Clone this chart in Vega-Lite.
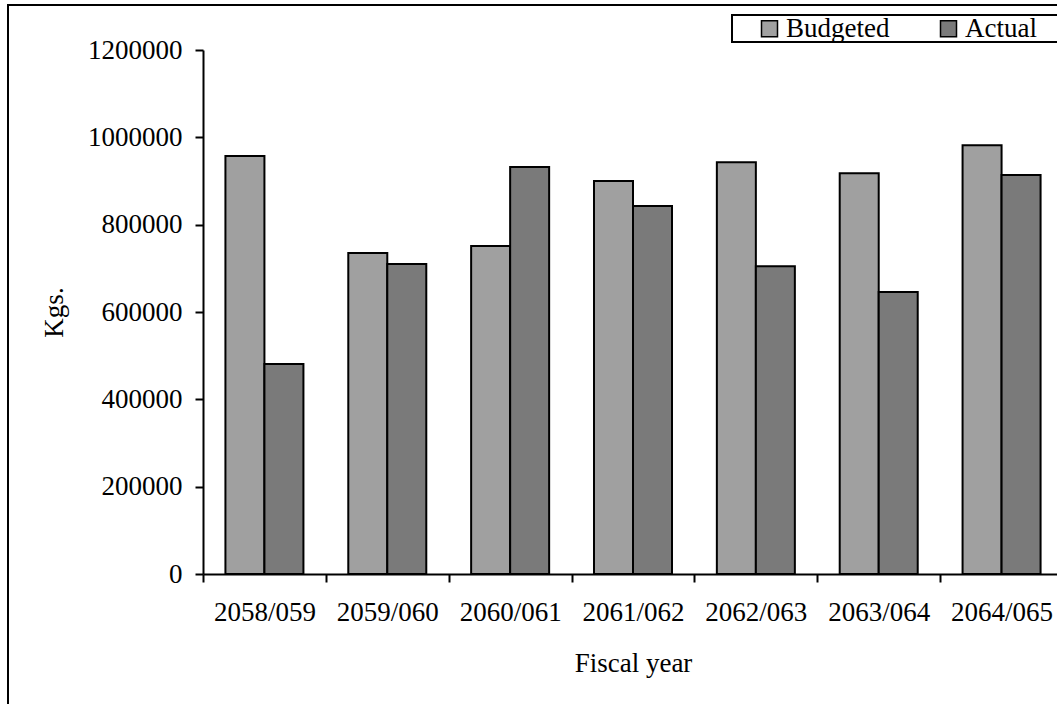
{
  "$schema": "https://vega.github.io/schema/vega-lite/v6.json",
  "width": 1060,
  "height": 720,
  "autosize": {"type": "none"},
  "padding": {"left": 8, "top": 5, "right": 0, "bottom": 0},
  "data": {
    "values": [
      {"year": "2058/059", "type": "Budgeted", "kgs": 957000},
      {"year": "2058/059", "type": "Actual", "kgs": 481000},
      {"year": "2059/060", "type": "Budgeted", "kgs": 735000},
      {"year": "2059/060", "type": "Actual", "kgs": 710000},
      {"year": "2060/061", "type": "Budgeted", "kgs": 751000},
      {"year": "2060/061", "type": "Actual", "kgs": 932000},
      {"year": "2061/062", "type": "Budgeted", "kgs": 900000},
      {"year": "2061/062", "type": "Actual", "kgs": 843000},
      {"year": "2062/063", "type": "Budgeted", "kgs": 943000},
      {"year": "2062/063", "type": "Actual", "kgs": 705000},
      {"year": "2063/064", "type": "Budgeted", "kgs": 918000},
      {"year": "2063/064", "type": "Actual", "kgs": 646000},
      {"year": "2064/065", "type": "Budgeted", "kgs": 982000},
      {"year": "2064/065", "type": "Actual", "kgs": 914000}
    ]
  },
  "mark": {"type": "bar", "stroke": "black", "strokeWidth": 2},
  "encoding": {
    "x": {
      "field": "year",
      "type": "nominal",
      "sort": null,
      "scale": {"range": [195, 1055], "paddingInner": 0, "paddingOuter": 0},
      "axis": {
        "title": "Fiscal year",
        "offset": -151,
        "tickBand": "extent",
        "labelAngle": 0,
        "labelFont": "Liberation Serif",
        "labelFontSize": 27,
        "labelColor": "black",
        "labelPadding": 17,
        "tickSize": 8,
        "tickWidth": 2,
        "tickColor": "black",
        "domainColor": "black",
        "domainWidth": 2,
        "titleFont": "Liberation Serif",
        "titleFontSize": 27,
        "titleFontWeight": "normal",
        "titleColor": "black",
        "titlePadding": 25
      }
    },
    "xOffset": {
      "field": "type",
      "sort": ["Budgeted", "Actual"],
      "scale": {"paddingInner": 0, "paddingOuter": 0.575}
    },
    "y": {
      "field": "kgs",
      "type": "quantitative",
      "scale": {"domain": [0, 1200000], "range": [569, 45], "nice": false},
      "axis": {
        "title": "Kgs.",
        "offset": -195,
        "values": [0, 200000, 400000, 600000, 800000, 1000000, 1200000],
        "format": "d",
        "grid": false,
        "labelFont": "Liberation Serif",
        "labelFontSize": 27,
        "labelColor": "black",
        "labelPadding": 13,
        "tickSize": 8,
        "tickWidth": 2,
        "tickColor": "black",
        "domainColor": "black",
        "domainWidth": 2,
        "titleFont": "Liberation Serif",
        "titleFontSize": 27,
        "titleFontWeight": "normal",
        "titleColor": "black",
        "titlePadding": 19
      }
    },
    "color": {
      "field": "type",
      "type": "nominal",
      "sort": ["Budgeted", "Actual"],
      "scale": {"domain": ["Budgeted", "Actual"], "range": ["#a0a0a0", "#7a7a7a"]},
      "legend": {
        "title": "\u00a0",
        "titleOrient": "right",
        "titlePadding": 40,
        "titleFontSize": 27,
        "orient": "none",
        "legendX": 724,
        "legendY": 10,
        "direction": "horizontal",
        "columns": 2,
        "symbolType": "square",
        "symbolSize": 256,
        "symbolStrokeColor": "black",
        "symbolStrokeWidth": 1.5,
        "symbolOpacity": 1,
        "symbolOffset": 24,
        "labelFont": "Liberation Serif",
        "labelFontSize": 27,
        "labelColor": "black",
        "labelOffset": 3,
        "columnPadding": 21,
        "padding": 0,
        "strokeColor": "black",
        "fillColor": "white"
      }
    }
  },
  "config": {
    "view": {"stroke": "black", "strokeWidth": 2},
    "font": "Liberation Serif",
    "legend": {"strokeWidth": 2}
  }
}
